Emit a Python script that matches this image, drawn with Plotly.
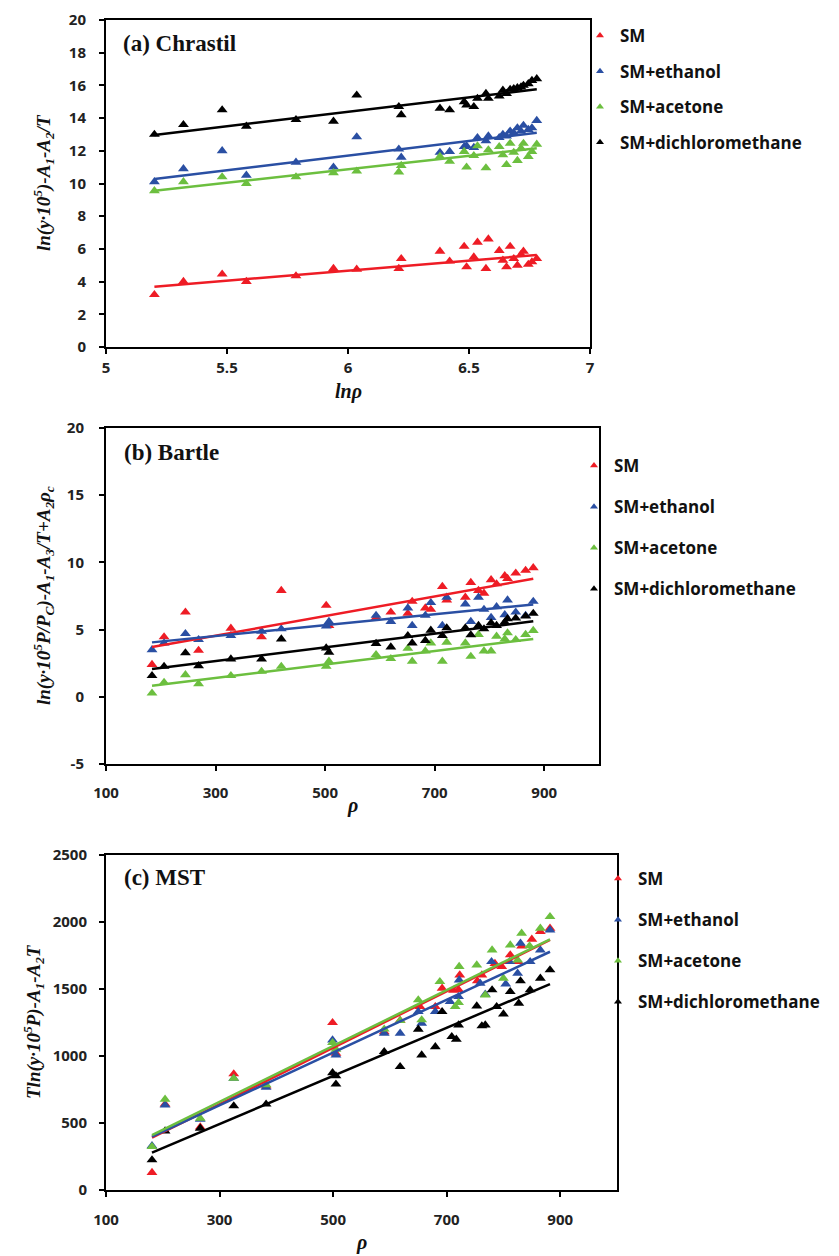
import plotly.graph_objects as go

# ---------------- data ----------------
SERIES = ["SM", "SM+ethanol", "SM+acetone", "SM+dichloromethane"]
COLORS = ["#EE1C25", "#2A4FA3", "#6CBF3F", "#000000"]

# Panel (a) Chrastil: x = ln(rho)
LNRHO_A = [5.20, 5.32, 5.48, 5.58, 5.785, 5.94, 6.036, 6.21, 6.22, 6.38, 6.42, 6.48, 6.49, 6.52,
           6.535, 6.57, 6.58, 6.625, 6.64, 6.655, 6.67, 6.685, 6.70, 6.715, 6.725, 6.745, 6.76, 6.78]
A_SM = [3.2, 4.0, 4.45, 4.0, 4.35, 4.8, 4.75, 4.8, 5.4, 5.85, 5.25, 6.15, 4.9, 5.5,
        6.4, 4.8, 6.6, 5.9, 5.3, 4.9, 6.15, 5.4, 5.0, 5.65, 5.85, 5.05, 5.2, 5.4]
A_ETH = [10.1, 10.9, 12.0, 10.5, 11.3, 11.0, 12.85, 12.1, 11.6, 11.9, 11.95, 12.25, 12.3, 12.2,
         12.8, 12.6, 12.9, 12.8, 13.0, 12.9, 13.2, 13.1, 13.4, 13.2, 13.55, 13.3, 13.4, 13.85]
A_ACE = [9.55, 10.1, 10.4, 10.0, 10.4, 10.65, 10.75, 10.7, 11.1, 11.65, 11.35, 11.95, 11.0, 11.7,
         12.3, 10.95, 12.05, 12.25, 11.75, 11.15, 12.45, 11.9, 11.4, 12.15, 12.45, 11.65, 11.95, 12.4]
A_DCM = [13.0, 13.6, 14.5, 13.5, 13.9, 13.8, 15.4, 14.7, 14.2, 14.6, 14.5, 15.0, 14.8, 14.7,
         15.2, 15.5, 15.2, 15.35, 15.7, 15.5, 15.75, 15.8, 15.85, 15.9, 16.0, 16.1, 16.3, 16.4]
A_FIT_X = [5.2, 6.78]
A_FIT = [[3.69, 5.63], [10.28, 13.1], [9.56, 12.15], [12.97, 15.76]]

# Panel (b) Bartle: x = rho
RHO_B = [184, 206, 245, 269, 328, 384, 420, 502, 507, 593, 620, 651, 659, 683,
         693, 714, 722, 756, 766, 780, 790, 803, 813, 828, 833, 848, 866, 880]
B_SM = [2.4, 4.45, 6.3, 3.45, 5.1, 4.45, 7.9, 6.8, 5.3, 5.9, 6.3, 6.2, 7.1, 6.6,
        6.5, 8.2, 7.2, 7.4, 8.5, 7.9, 7.7, 8.7, 8.4, 9.0, 8.8, 9.2, 9.4, 9.6]
B_ETH = [3.5, 4.0, 4.7, 4.25, 4.55, 4.87, 5.05, 5.25, 5.6, 6.05, 5.6, 6.6, 5.3, 6.05,
         7.0, 5.3, 7.4, 6.9, 5.6, 7.4, 6.5, 5.9, 6.7, 6.1, 7.2, 6.3, 6.05, 7.1]
B_ACE = [0.27, 1.07, 1.64, 0.97, 1.57, 1.89, 2.26, 2.26, 2.64, 3.13, 2.84, 3.6, 2.64, 3.4,
         4.0, 2.64, 4.05, 4.0, 3.0, 4.63, 3.4, 3.4, 4.5, 4.3, 4.75, 4.25, 4.63, 4.93]
B_DCM = [1.57, 2.26, 3.26, 2.31, 2.81, 2.81, 4.3, 3.63, 3.3, 3.96, 3.7, 4.55, 4.0, 4.18,
         4.95, 4.55, 5.12, 5.12, 4.6, 5.3, 5.05, 5.5, 5.3, 5.55, 5.8, 5.85, 6.0, 6.2]
B_FIT_X = [184, 880]
B_FIT = [[3.7, 8.78], [4.05, 6.87], [0.82, 4.3], [2.06, 5.62]]
B_YTICKS = [-5, 0, 5, 10, 15, 20]
B_YTEXT = ["-5", "0", "5", "10", "15", "20"]

# Panel (c) MST: x = rho
C_SM_X = [181, 204, 266, 325, 382, 499, 505, 590, 618, 653, 680, 692, 712, 721, 723, 754, 762,
          785, 797, 812, 826, 832, 850, 865, 882]
C_SM_Y = [130, 640, 470, 866, 775, 1249, 1020, 1180, 1265, 1368, 1368, 1505, 1490, 1495, 1604, 1560, 1604,
          1690, 1667, 1754, 1704, 1820, 1871, 1928, 1953]
C_ETH_X = [181, 204, 266, 325, 382, 499, 505, 590, 618, 650, 656, 680, 706, 721, 722, 759, 768,
           779, 804, 811, 825, 830, 847, 865, 882]
C_ETH_Y = [330, 634, 528, 833, 766, 1119, 1007, 1169, 1169, 1331, 1244, 1332, 1405, 1443, 1567, 1542, 1460,
           1704, 1537, 1704, 1617, 1841, 1704, 1791, 1940]
C_ACE_X = [181, 204, 266, 325, 382, 499, 505, 590, 618, 650, 656, 688, 715, 721, 722, 753, 768,
           780, 800, 812, 825, 832, 846, 865, 882]
C_ACE_Y = [323, 677, 535, 833, 785, 1099, 1050, 1200, 1264, 1418, 1269, 1555, 1368, 1398, 1667, 1679, 1455,
           1791, 1580, 1828, 1716, 1916, 1821, 1953, 2040]
C_DCM_X = [181, 204, 266, 325, 382, 499, 505, 505, 590, 618, 650, 656, 680, 692, 709, 717, 721, 753,
           762, 768, 780, 788, 800, 812, 827, 830, 847, 865, 882]
C_DCM_Y = [224, 440, 460, 627, 640, 875, 851, 790, 1032, 920, 1199, 1007, 1069, 1331, 1144, 1125, 1231, 1373,
           1224, 1231, 1493, 1368, 1313, 1480, 1393, 1560, 1493, 1580, 1642]
C_FIT_X = [181, 882]
C_FIT = [[390, 1866], [398, 1778], [410, 1871], [279, 1537]]

# ---------------- figure ----------------
# The page body adds an 8 px margin, so the figure is sized to fit the window.
PAGE_W, PAGE_H, BODY = 839, 1256, 8
W, H = PAGE_W - BODY, PAGE_H - BODY
fig = go.Figure()

def px_x(p):
    return (p - BODY) / W

def px_y(p):
    return 1 - (p - BODY) / H

panels = [
    dict(xa="x", ya="y", legend="legend", xs=[LNRHO_A] * 4, ys=[A_SM, A_ETH, A_ACE, A_DCM],
         fx=A_FIT_X, fy=A_FIT),
    dict(xa="x2", ya="y2", legend="legend2", xs=[RHO_B] * 4, ys=[B_SM, B_ETH, B_ACE, B_DCM],
         fx=B_FIT_X, fy=B_FIT),
    dict(xa="x3", ya="y3", legend="legend3", xs=[C_SM_X, C_ETH_X, C_ACE_X, C_DCM_X],
         ys=[C_SM_Y, C_ETH_Y, C_ACE_Y, C_DCM_Y], fx=C_FIT_X, fy=C_FIT),
]

for p in panels:
    for i, name in enumerate(SERIES):
        fig.add_trace(go.Scatter(
            x=p["xs"][i], y=p["ys"][i], mode="markers", name=name,
            marker=dict(symbol="triangle-up", size=9.5, color=COLORS[i]),
            xaxis=p["xa"], yaxis=p["ya"], showlegend=False, cliponaxis=False))
    for i, name in enumerate(SERIES):
        fig.add_trace(go.Scatter(
            x=p["fx"], y=p["fy"][i], mode="lines", name=name + " fit",
            line=dict(color=COLORS[i], width=2.5),
            xaxis=p["xa"], yaxis=p["ya"], showlegend=False))
    # legend entries (small triangle markers as in the original)
    for i, name in enumerate(SERIES):
        fig.add_trace(go.Scatter(
            x=[None], y=[None], mode="markers", name=name,
            marker=dict(symbol="triangle-up", size=7, color=COLORS[i]),
            xaxis=p["xa"], yaxis=p["ya"], legend=p["legend"], legendgroup=p["legend"] + name,
            showlegend=True))

tickfont = dict(family="Open Sans", size=15, color="#222", weight="bold")
axis_common = dict(showline=True, linecolor="black", linewidth=2, mirror=True,
                   ticks="outside", ticklen=5, tickwidth=2, tickcolor="black",
                   showgrid=False, zeroline=False, tickfont=tickfont, automargin=False)

fig.update_layout(
    width=W, height=H, autosize=False,
    margin=dict(l=0, r=0, t=0, b=0, pad=0, autoexpand=False),
    paper_bgcolor="white", plot_bgcolor="white",
    xaxis=dict(domain=[px_x(106), px_x(590)], range=[5, 7], tickvals=[5, 5.5, 6, 6.5, 7],
               ticktext=["5", "5.5", "6", "6.5", "7"], anchor="y", ticklabelstandoff=1, **axis_common),
    yaxis=dict(domain=[px_y(347), px_y(20)], range=[0, 20], dtick=2, anchor="x",
               ticklabelstandoff=10, **axis_common),
    xaxis2=dict(domain=[px_x(106), px_x(599)], range=[100, 1000], tickvals=[100, 300, 500, 700, 900],
                anchor="y2", ticklabelstandoff=9, **axis_common),
    yaxis2=dict(domain=[px_y(764), px_y(428)], range=[-5, 20], tickvals=B_YTICKS, ticktext=B_YTEXT,
                anchor="x2", ticklabelstandoff=12, **axis_common),
    xaxis3=dict(domain=[px_x(106), px_x(617)], range=[100, 1000], tickvals=[100, 300, 500, 700, 900],
                anchor="y3", ticklabelstandoff=10, **axis_common),
    yaxis3=dict(domain=[px_y(1190), px_y(855)], range=[0, 2500], dtick=500, anchor="x3",
                ticklabelstandoff=9, **axis_common),
)

legfont = dict(family="Open Sans", size=17, color="#111", weight="bold")
leg_common = dict(bgcolor="rgba(0,0,0,0)", borderwidth=0, font=legfont, traceorder="grouped",
                  xanchor="left", yanchor="top", itemwidth=30)
fig.update_layout(
    legend=dict(x=px_x(580), y=px_y(18), tracegroupgap=10.5, **leg_common),
    legend2=dict(x=px_x(574), y=px_y(448), tracegroupgap=16, **leg_common),
    legend3=dict(x=px_x(598), y=px_y(861), tracegroupgap=16, **leg_common),
)

serif = "Liberation Serif"
ann = []
# panel labels
for txt, (x, y) in [("(a) Chrastil", (121, 43)), ("(b) Bartle", (122, 452)), ("(c) MST", (122, 877))]:
    ann.append(dict(text="<b>" + txt + "</b>", x=px_x(x), y=px_y(y), xref="paper", yref="paper",
                    xanchor="left", yanchor="middle", showarrow=False,
                    font=dict(family=serif, size=23, color="#111")))
# axis titles
ytitles = [
    ("ln(y·10<sup>5</sup>)-A<sub>1</sub>-A<sub>2</sub>/T", 43, 183),
    ("ln(y·10<sup>5</sup>P/P<sub>C</sub>)-A<sub>1</sub>-A<sub>3</sub>/T+A<sub>2</sub>ρ<sub>c</sub>", 43, 596),
    ("Tln(y·10<sup>5</sup>P)-A<sub>1</sub>-A<sub>2</sub>T", 33, 1022),
]
for txt, x, y in ytitles:
    ann.append(dict(text="<b><i>" + txt + "</i></b>", x=px_x(x), y=px_y(y), xref="paper", yref="paper",
                    xanchor="center", yanchor="middle", textangle=-90, showarrow=False,
                    font=dict(family=serif, size=19, color="#111")))
xtitles = [("lnρ", 348, 391), ("ρ", 352, 806), ("ρ", 361, 1242)]
for txt, x, y in xtitles:
    ann.append(dict(text="<b><i>" + txt + "</i></b>", x=px_x(x), y=px_y(y), xref="paper", yref="paper",
                    xanchor="center", yanchor="middle", showarrow=False,
                    font=dict(family=serif, size=20, color="#111")))
fig.update_layout(annotations=ann)

fig.write_html("out.html")
